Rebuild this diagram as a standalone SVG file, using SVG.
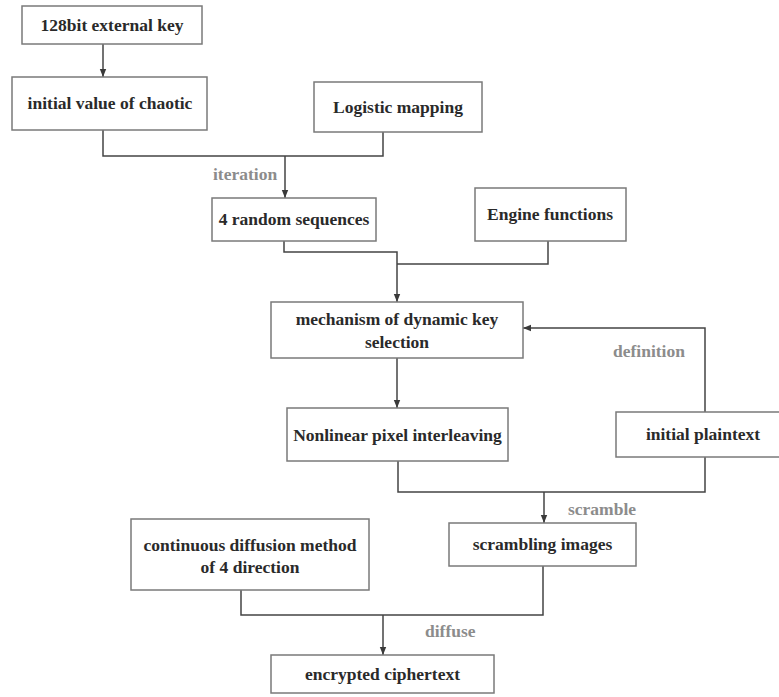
<svg xmlns="http://www.w3.org/2000/svg" width="779" height="697" viewBox="0 0 779 697">
<defs>
<marker id="arr" markerWidth="8" markerHeight="8" viewBox="0 0 8 8" refX="8" refY="4" orient="auto" markerUnits="userSpaceOnUse">
<path d="M0,0.8 L8,4 L0,7.2 Z" fill="#3a3a3a"/>
</marker>
<style>
.box{fill:#fff;stroke:#7a7a7a;stroke-width:1.5}
.t{font-family:"Liberation Serif","Times New Roman",serif;font-weight:bold;font-size:17.5px;fill:#2a2a2a;text-anchor:middle}
.lbl{font-family:"Liberation Serif","Times New Roman",serif;font-weight:bold;font-size:17.5px;fill:#8c8c8c}
.c{fill:none;stroke:#444;stroke-width:1.5}
</style>
</defs>
<rect width="779" height="697" fill="#fff"/>
<g id="connectors">
<path class="c" d="M103,44 V77" marker-end="url(#arr)"/>
<path class="c" d="M103,130 V156 H383 V132"/>
<path class="c" d="M285,156 V198" marker-end="url(#arr)"/>
<path class="c" d="M284,241 V252 H397 V302" marker-end="url(#arr)"/>
<path class="c" d="M548,241 V264 H397"/>
<path class="c" d="M705,412 V328 H523" marker-end="url(#arr)"/>
<path class="c" d="M397,358 V408" marker-end="url(#arr)"/>
<path class="c" d="M398,461 V492 H705 V457"/>
<path class="c" d="M544,492 V523" marker-end="url(#arr)"/>
<path class="c" d="M241,590 V615 H543 V566"/>
<path class="c" d="M383,615 V655" marker-end="url(#arr)"/>
<text class="lbl" x="213" y="180">iteration</text>
<text class="lbl" x="613" y="357">definition</text>
<text class="lbl" x="568" y="515">scramble</text>
<text class="lbl" x="425" y="637">diffuse</text>
</g>
<g id="n1"><rect class="box" x="22" y="6" width="180" height="38"/><text class="t" x="112" y="31">128bit external key</text></g>
<g id="n2"><rect class="box" x="12" y="77" width="195" height="53"/><text class="t" x="110" y="109">initial value of chaotic</text></g>
<g id="n3"><rect class="box" x="314" y="82" width="168" height="50"/><text class="t" x="398" y="113">Logistic mapping</text></g>
<g id="n4"><rect class="box" x="212" y="198" width="164" height="43"/><text class="t" x="294" y="225">4 random sequences</text></g>
<g id="n5"><rect class="box" x="475" y="188" width="151" height="53"/><text class="t" x="550" y="220">Engine functions</text></g>
<g id="n6"><rect class="box" x="271" y="302" width="252" height="56"/><text class="t" x="397" y="325">mechanism of dynamic key</text><text class="t" x="397" y="348">selection</text></g>
<g id="n7"><rect class="box" x="287" y="408" width="221" height="53"/><text class="t" x="397.5" y="441">Nonlinear pixel interleaving</text></g>
<g id="n8"><rect class="box" x="616" y="412" width="170" height="45"/><text class="t" x="703" y="440">initial plaintext</text></g>
<g id="n9"><rect class="box" x="449" y="523" width="187" height="43"/><text class="t" x="542.5" y="550">scrambling images</text></g>
<g id="n10"><rect class="box" x="131" y="519" width="238" height="71"/><text class="t" x="250" y="551">continuous diffusion method</text><text class="t" x="250" y="573">of 4 direction</text></g>
<g id="n11"><rect class="box" x="271" y="655" width="223" height="38"/><text class="t" x="382.5" y="680">encrypted ciphertext</text></g>
</svg>
